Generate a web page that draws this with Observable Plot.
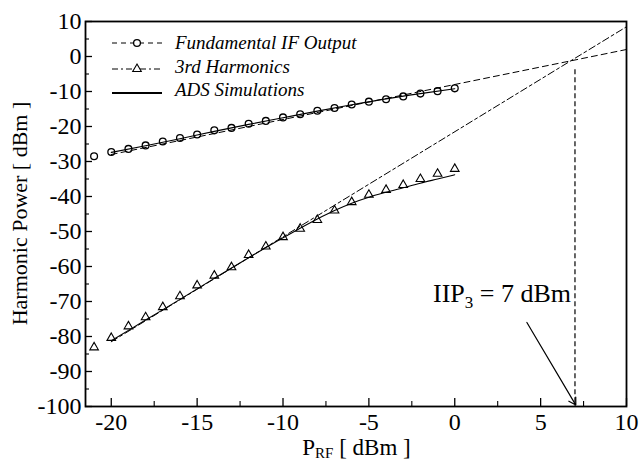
<!DOCTYPE html>
<html>
<head>
<meta charset="utf-8">
<script src="https://cdn.jsdelivr.net/npm/d3@7"></script>
<script src="https://cdn.jsdelivr.net/npm/@observablehq/plot@0.6"></script>
<style>
html, body { margin: 0; padding: 0; background: #fff; }
#chart { width: 639px; height: 463px; }
</style>
</head>
<body>
<div id="chart"></div>
<script>
// ---- data ----
const pinMeas = [-21, -20, -19, -18, -17, -16, -15, -14, -13, -12, -11, -10, -9, -8, -7, -6, -5, -4, -3, -2, -1, 0];
const fundMeas = [-28.5, -27.3, -26.4, -25.4, -24.3, -23.3, -22.3, -21.1, -20.4, -19.2, -18.4, -17.4, -16.5, -15.5, -14.7, -13.7, -12.9, -12.2, -11.4, -10.6, -9.9, -9.1];
const thirdMeas = [-83.1, -80.4, -77.1, -74.5, -71.6, -68.5, -65.4, -62.6, -60.2, -56.7, -54.3, -51.6, -49.2, -46.7, -44.0, -41.6, -39.5, -38.1, -36.7, -35.0, -33.5, -32.1];

const pinSimFund = [-20, -18, -16, -14, -12, -10, -8, -6, -4, -2, 0];
const fundSim = [-27.4, -25.5, -23.5, -21.4, -19.4, -17.5, -15.6, -13.8, -12.1, -10.6, -9.2];
const pinSimThird = [-20, -18, -16, -14, -12, -10, -8, -7, -6, -5, -4, -3, -2, -1, 0];
const thirdSim = [-81.2, -75.3, -69.4, -63.4, -57.5, -51.8, -46.4, -44.0, -41.9, -40.2, -38.8, -37.5, -36.2, -35.0, -33.8];

const pinExtrap = [-20, 10];
const fundExtrap = [-28, 2];
const thirdExtrap = [-81.5, 8.5];

const iip3 = 7;
const iip3Top = -3.8;
const arrowFrom = [4.2, -76];
const arrowTo = [7.05, -99.6];
const labelAt = [6.8, -70.2];

const xMajor = [-20, -15, -10, -5, 0, 5, 10];
const xMinor = [-17.5, -12.5, -7.5, -2.5, 2.5, 7.5];
const yMajor = [10, 0, -10, -20, -30, -40, -50, -60, -70, -80, -90, -100];
const yMinor = [5, -5, -15, -25, -35, -45, -55, -65, -75, -85, -95];
const xDomain = [-21.5, 10];
const yDomain = [-100, 10];

const legendItems = ["Fundamental IF Output", "3rd Harmonics", "ADS Simulations"];

// ---- tables ----
const zip = (xs, ys) => xs.map((x, i) => ({x, y: ys[i]}));
const fundPts = zip(pinMeas, fundMeas);
const thirdPts = zip(pinMeas, thirdMeas);
const fundSimPts = zip(pinSimFund, fundSim);
const thirdSimPts = zip(pinSimThird, thirdSim);
const fundExtPts = zip(pinExtrap, fundExtrap);
const thirdExtPts = zip(pinExtrap, thirdExtrap);

const W = 639, H = 463;
const mL = 85, mR = 13, mT = 21, mB = 57;
const plotW = W - mL - mR, plotH = H - mT - mB;
const serif = "'Liberation Serif', 'Times New Roman', serif";

const chart = Plot.plot({
  width: W,
  height: H,
  marginLeft: mL,
  marginRight: mR,
  marginTop: mT,
  marginBottom: mB,
  style: {fontFamily: serif, fontSize: "24px", color: "black", background: "white", overflow: "visible"},
  x: {domain: xDomain, label: null},
  y: {domain: yDomain, label: null},
  marks: [
    // inward ticks
    Plot.ruleX(xMajor, {insetTop: plotH - 8, stroke: "black", strokeWidth: 1.3}),
    Plot.ruleX(xMinor, {insetTop: plotH - 5, stroke: "black", strokeWidth: 1.1}),
    Plot.ruleY(yMajor, {insetRight: plotW - 7, stroke: "black", strokeWidth: 1.3}),
    Plot.ruleY(yMinor, {insetRight: plotW - 4, stroke: "black", strokeWidth: 1.1}),
    Plot.axisX(xMajor, {tickSize: 0, tickPadding: 6, fontSize: 24, fontFamily: serif, tickFormat: d => String(d), label: null}),
    Plot.axisY(yMajor, {tickSize: 0, tickPadding: 4, fontSize: 24, fontFamily: serif, tickFormat: d => String(d), label: null}),
    // extrapolations
    Plot.line(fundExtPts, {x: "x", y: "y", stroke: "black", strokeWidth: 1, strokeDasharray: "6,4"}),
    Plot.line(thirdExtPts, {x: "x", y: "y", stroke: "black", strokeWidth: 1, strokeDasharray: "7,3,3,3"}),
    // ADS simulations
    Plot.line(fundSimPts, {x: "x", y: "y", stroke: "black", strokeWidth: 1.1, curve: "monotone-x"}),
    Plot.line(thirdSimPts, {x: "x", y: "y", stroke: "black", strokeWidth: 1.1, curve: "monotone-x"}),
    // measurements
    Plot.dot(fundPts, {x: "x", y: "y", symbol: "circle", r: 3.4, stroke: "black", strokeWidth: 1.3, fill: "none"}),
    Plot.dot(thirdPts, {x: "x", y: "y", symbol: "triangle", r: 3.2, stroke: "black", strokeWidth: 1.1, fill: "none"}),
    // IIP3 annotation
    Plot.ruleX([iip3], {y1: iip3Top, y2: yDomain[0], stroke: "black", strokeWidth: 1.2, strokeDasharray: "5,3"}),
    Plot.arrow([{x1: arrowFrom[0], y1: arrowFrom[1], x2: arrowTo[0], y2: arrowTo[1]}],
      {x1: "x1", y1: "y1", x2: "x2", y2: "y2", stroke: "black", strokeWidth: 1.2, headLength: 10}),
    Plot.frame({stroke: "black", strokeWidth: 1.8})
  ]
});

document.getElementById("chart").appendChild(chart);

// ---- text with sub/superscripts, legend ----
const svg = d3.select(chart);
const sx = chart.scale("x"), sy = chart.scale("y");

// IIP3 label
const t = svg.append("text")
  .attr("x", sx.apply(labelAt[0]))
  .attr("y", sy.apply(labelAt[1]))
  .attr("text-anchor", "end")
  .attr("font-family", serif)
  .attr("font-size", 26)
  .attr("fill", "black");
t.append("tspan").text("IIP");
t.append("tspan").attr("font-size", 17).attr("dy", 6).text("3");
t.append("tspan").attr("dy", -6).text(" = 7 dBm");

// x axis label
const xl = svg.append("text")
  .attr("x", mL + plotW / 2 + 1)
  .attr("y", 455)
  .attr("text-anchor", "middle")
  .attr("font-family", serif)
  .attr("font-size", 23)
  .attr("fill", "black");
xl.append("tspan").text("P");
xl.append("tspan").attr("font-size", 15).attr("dy", 3).text("RF");
xl.append("tspan").attr("dy", -3).text(" [ dBm ]");

// y axis label
svg.append("text")
  .attr("transform", `translate(19,${mT + plotH / 2}) rotate(-90)`)
  .attr("text-anchor", "middle")
  .attr("dy", "0.35em")
  .attr("font-family", serif)
  .attr("font-size", 22)
  .attr("fill", "black")
  .text("Harmonic Power [ dBm ]");

// legend
const lg = svg.append("g")
  .attr("font-family", serif)
  .attr("font-size", 19)
  .attr("font-style", "italic")
  .attr("text-anchor", "start");
const rowsLine = [43, 69, 93];
const rowsText = [49, 73, 96];
const dashes = ["5,4", "6,3,2,3", null];
legendItems.forEach((name, i) => {
  const ln = lg.append("line")
    .attr("x1", 112).attr("x2", 162)
    .attr("y1", rowsLine[i]).attr("y2", rowsLine[i])
    .attr("stroke", "black").attr("stroke-width", i === 2 ? 1.8 : 1);
  if (dashes[i]) ln.attr("stroke-dasharray", dashes[i]);
  if (i === 0) {
    lg.append("circle").attr("cx", 137).attr("cy", rowsLine[i]).attr("r", 3.4)
      .attr("fill", "white").attr("stroke", "black").attr("stroke-width", 1.3);
  } else if (i === 1) {
    lg.append("path").attr("transform", `translate(137,${rowsLine[i]})`)
      .attr("d", d3.symbol(d3.symbolTriangle, 32)())
      .attr("fill", "white").attr("stroke", "black").attr("stroke-width", 1.1);
  }
  lg.append("text").attr("x", 175).attr("y", rowsText[i]).attr("fill", "black").attr("text-anchor", "start").text(name);
});
</script>
</body>
</html>
